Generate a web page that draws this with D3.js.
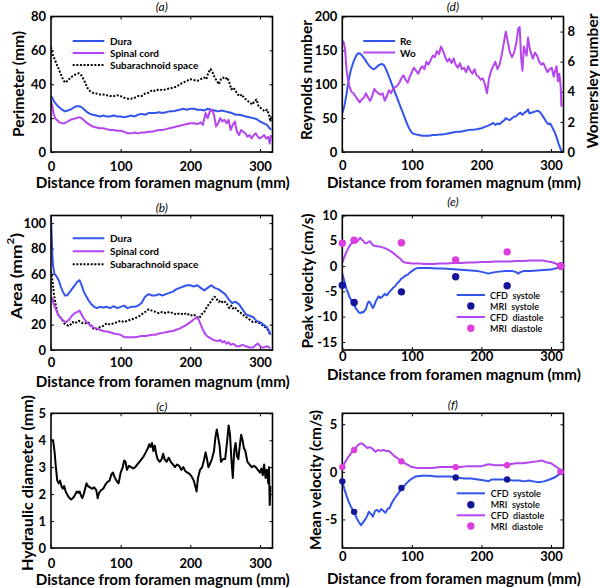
<!DOCTYPE html>
<html><head><meta charset="utf-8">
<script src="https://cdn.jsdelivr.net/npm/d3@7/dist/d3.min.js"></script>
<style>
body{margin:0;background:#fff}
text{font-family:Lato,"Liberation Sans",sans-serif}
</style>
</head><body>
<svg id="chart" width="600" height="588"></svg>
<script>
// ---------------- DATA ----------------
const xTicks = [0, 100, 200, 300];

// (a) Perimeter (mm)
const perimDura = [[0,33],[2,32],[4,30],[6,29],[8,28],[10,27],[13,26],[16,25],[20,24],[24,24.5],[28,25],[32,26],[36,27],[40,27],[44,26.5],[48,25],[52,23.5],[56,22.5],[60,22],[65,21.5],[70,21],[75,21.5],[80,21],[85,21],[90,21.5],[95,21],[100,21],[105,20.5],[110,21],[115,21.5],[120,21],[125,22],[130,22.5],[135,22],[140,23],[145,23],[150,23],[155,23.5],[160,23],[165,23.5],[170,24],[175,24],[180,24.5],[185,25],[190,25.5],[195,25],[200,25.5],[205,25.5],[210,25],[215,25],[220,24.5],[225,25.5],[230,25],[235,24.5],[240,24],[245,24.5],[250,24],[255,23.5],[260,23],[265,22],[270,22],[275,21.5],[280,21],[285,20.5],[290,20],[295,19.5],[300,18],[305,17],[310,16],[314,14],[316,13]];
const perimCord = [[0,30],[2,27],[4,22],[6,20],[8,19],[12,17.5],[16,17],[20,17],[24,18],[28,19],[32,19.5],[36,20],[40,20.5],[44,20],[48,18.5],[52,17],[56,16],[60,15],[65,14.5],[70,14],[75,14],[80,13.5],[85,13],[90,13],[95,12.5],[100,12.5],[105,12],[110,11],[115,11],[120,11.5],[125,11],[130,11.5],[135,11.5],[140,12],[145,12],[150,12.5],[155,13],[160,13],[165,13.5],[170,14],[175,14.5],[180,15],[185,15.5],[190,16],[195,16.5],[200,17],[205,17],[210,16.5],[215,17.5],[218,16],[222,23],[225,20],[228,24],[231,25],[234,22],[237,15],[240,17],[243,20],[246,18],[249,19],[252,17],[255,19],[258,13],[261,16],[264,18],[267,12],[270,10],[273,13],[276,12],[279,11],[282,9],[285,10],[288,8],[291,10],[294,11],[297,9],[300,8],[303,9],[306,10],[309,8],[312,9],[314,5],[316,10]];
const perimSAS = [[0,62],[2,58],[4,56],[6,54],[8,52],[10,50],[13,47],[16,44],[20,41],[24,42],[28,44],[32,45],[36,46],[40,46.5],[44,45],[48,42],[52,38],[56,36],[60,35],[65,34.5],[70,34],[75,34],[80,33.5],[85,33],[90,33],[95,33.5],[100,33],[105,32],[110,31.5],[115,31.5],[120,32],[125,33],[130,33],[135,34.5],[140,35],[145,36.5],[150,36],[155,37],[160,36.5],[165,37],[170,37.5],[175,38],[180,38.5],[185,40],[190,41],[195,42],[200,43],[205,42.5],[210,42],[215,43],[220,44],[223,43],[226,47],[229,49],[232,47],[235,44],[238,42],[241,40],[244,43],[247,44],[250,43],[253,44],[256,41],[259,37],[262,38],[265,36],[268,34],[271,33],[274,34],[277,32],[280,31],[283,30],[286,29],[289,28],[292,30],[295,31],[298,27],[301,26],[304,25],[307,24],[310,25],[313,22],[315,18],[316,21]];

// (b) Area (mm^2)
const areaDura = [[0,105],[1,90],[2,75],[3,66],[5,60],[8,58],[11,55],[14,50],[17,46],[20,43],[23,43],[26,45],[30,48],[34,51],[38,54],[41,55],[44,51],[47,46],[50,43],[54,39],[58,36],[62,34],[66,33],[70,34],[75,33.5],[80,34],[85,33],[90,34.5],[95,33],[100,34],[105,35],[110,33],[115,34],[120,34],[125,35],[130,37],[135,42],[140,44],[145,43],[150,43],[155,44],[160,43],[165,44],[170,45],[175,46],[180,48],[185,49],[190,50],[195,51],[200,51],[205,50],[210,51],[215,49],[220,47],[225,49],[230,51],[235,49],[240,48],[245,46],[250,44],[255,40],[260,37],[265,38],[270,36],[275,32],[280,28],[285,27],[290,26],[295,23],[300,22],[305,20],[310,18],[313,15],[315,12]];
const areaCord = [[0,42],[2,40],[4,36],[7,32],[10,28],[14,25],[18,23],[22,22],[26,24],[30,27],[34,29],[38,30],[41,31],[44,28],[47,25],[51,22],[55,20],[60,18],[65,17],[70,16],[75,15],[80,14.5],[85,14],[90,13],[95,12.5],[100,12],[105,10],[110,10],[115,10],[120,10],[125,10.5],[130,11],[135,11],[140,11.5],[145,12],[150,12],[155,13],[160,13.5],[165,14],[170,14.5],[175,15],[180,16],[185,17],[190,18.5],[195,20],[200,22],[205,24],[209,26],[212,24],[215,20],[218,16],[221,13],[224,11],[227,10],[230,9],[233,8],[236,7.5],[240,7],[243,8],[246,6],[249,7],[252,5],[255,6],[258,4],[262,5],[266,3],[270,3],[275,4],[280,3],[285,2],[290,2],[294,4],[297,5],[300,3],[303,2],[306,2],[310,3],[313,2],[315,1.5]];
const areaSAS = [[0,62],[2,55],[4,45],[6,38],[8,32],[10,28],[13,26],[16,24],[19,21],[22,20],[25,19],[28,20],[31,22],[34,21],[37,22],[40,23],[43,22],[46,21],[49,21],[52,22],[55,21],[58,19],[61,17],[64,16],[67,17],[70,18],[75,19],[80,21],[85,20],[90,21],[95,22],[100,23],[105,22],[110,23],[115,24],[120,25],[125,26],[130,28],[135,30],[140,32],[145,31],[150,30],[155,29],[160,30],[165,29],[170,30],[175,29],[180,28],[185,29],[190,28],[195,29],[200,27],[205,28],[210,26],[213,25],[216,28],[220,30],[224,34],[228,37],[232,40],[235,42],[238,40],[241,38],[244,39],[247,37],[250,38],[253,36],[256,33],[259,35],[262,32],[265,33],[268,31],[271,30],[275,28],[280,26],[285,24],[290,22],[295,22],[300,21],[305,19],[310,17],[313,14],[315,12]];

// (c) Hydraulic diameter (mm)
const hydDiam = [[0,4.0],[3,4.0],[5,3.6],[7,3.0],[9,2.5],[11,2.4],[13,2.5],[15,2.3],[17,2.2],[19,2.3],[21,2.1],[23,2.0],[25,1.9],[27,1.85],[29,1.8],[31,1.85],[33,1.9],[35,2.0],[37,2.1],[39,2.05],[41,2.1],[43,1.95],[45,1.85],[47,2.0],[49,2.2],[51,2.4],[53,2.3],[56,2.25],[59,2.2],[62,2.25],[65,2.15],[67,1.85],[69,2.05],[72,2.15],[75,2.2],[78,2.35],[81,2.45],[84,2.5],[87,2.75],[89,2.8],[91,2.65],[94,2.5],[97,2.4],[100,2.8],[103,3.0],[105,3.25],[107,3.2],[109,2.9],[112,3.05],[115,3.0],[118,2.95],[121,3.0],[124,3.1],[127,3.2],[130,3.3],[133,3.4],[136,3.55],[139,3.7],[141,3.85],[143,3.75],[145,3.9],[147,3.6],[149,3.8],[151,3.5],[153,3.3],[156,3.2],[159,3.3],[161,3.5],[163,3.3],[166,3.2],[169,3.35],[172,3.2],[175,3.1],[178,3.0],[181,3.1],[184,3.05],[187,2.9],[190,3.0],[193,2.85],[196,2.8],[199,2.75],[202,2.65],[205,2.5],[207,2.3],[209,2.1],[211,2.6],[214,2.9],[217,3.0],[220,3.3],[222,3.55],[224,3.3],[226,3.0],[228,3.1],[231,3.3],[234,3.6],[236,4.1],[238,4.4],[240,4.1],[242,3.8],[244,3.2],[247,3.3],[250,3.3],[253,4.0],[255,4.55],[257,4.2],[259,3.3],[261,2.6],[263,3.6],[265,3.9],[267,3.4],[269,3.3],[271,3.8],[273,4.2],[275,4.0],[277,3.7],[279,3.6],[282,3.2],[285,3.1],[288,3.0],[291,3.05],[294,3.0],[297,2.9],[300,2.8],[302,2.95],[304,2.7],[306,3.1],[308,2.6],[310,2.9],[312,2.4],[313,3.0],[314,1.6],[315,2.3]];

// (d) Reynolds / Womersley
const reynolds = [[0,57],[3,68],[6,85],[9,105],[12,120],[15,130],[18,138],[21,144],[24,146],[27,144],[30,140],[33,136],[36,131],[39,127],[42,124],[45,122],[48,124],[51,127],[54,129],[57,130],[60,128],[63,122],[66,114],[69,106],[72,98],[75,90],[78,82],[81,74],[84,66],[87,58],[90,50],[93,42],[96,35],[99,30],[102,27],[106,26],[110,25],[115,24],[120,24],[125,24],[130,25],[135,25],[140,26],[145,26],[150,27],[155,28],[160,29],[165,30],[170,30],[175,31],[180,32],[185,33],[190,33],[195,34],[200,35],[205,37],[210,39],[214,41],[217,43],[220,40],[223,42],[226,41],[229,44],[232,46],[235,50],[238,48],[241,47],[244,50],[247,52],[250,53],[253,56],[256,58],[259,55],[262,58],[265,60],[267,63],[269,57],[272,58],[275,59],[278,60],[281,61],[284,59],[287,55],[290,50],[293,45],[296,41],[299,42],[302,36],[305,30],[308,22],[311,12],[314,4],[316,0]];
const womersley = [[0,7.4],[2,7.3],[4,6.8],[6,5.5],[8,4.8],[10,4.4],[13,4.0],[16,3.9],[19,3.7],[22,3.5],[25,3.3],[28,3.5],[31,3.6],[34,3.9],[37,3.6],[40,3.4],[43,3.7],[46,4.2],[49,4.0],[52,3.9],[55,3.8],[58,3.9],[61,3.4],[64,3.7],[67,4.1],[70,3.9],[73,4.2],[76,4.3],[79,4.4],[82,4.6],[85,4.9],[88,5.1],[91,4.8],[94,4.6],[97,5.0],[100,5.3],[103,5.6],[106,5.4],[109,5.2],[112,5.5],[115,5.7],[118,5.5],[121,6.0],[124,5.8],[127,6.1],[130,6.4],[133,6.3],[136,6.7],[139,6.5],[142,7.0],[145,6.7],[148,6.3],[151,6.0],[154,6.2],[157,5.9],[160,6.2],[163,5.8],[166,5.6],[169,5.9],[172,5.5],[175,5.6],[178,5.3],[181,5.7],[184,5.4],[187,5.2],[190,5.5],[193,5.1],[196,5.0],[199,4.8],[202,4.9],[205,4.5],[208,3.9],[211,4.9],[214,5.4],[217,5.7],[220,6.0],[223,5.5],[226,5.8],[229,6.4],[232,7.2],[235,8.0],[238,7.3],[241,6.6],[244,6.3],[247,6.6],[250,7.2],[253,8.2],[255,8.3],[257,6.3],[259,5.4],[261,7.0],[263,6.7],[265,6.4],[267,7.6],[269,7.0],[271,6.6],[274,6.2],[277,6.6],[280,6.4],[283,6.0],[286,5.8],[289,5.9],[292,5.6],[295,5.3],[298,5.5],[301,5.6],[304,5.0],[306,5.4],[308,5.7],[310,4.7],[312,5.2],[314,4.3],[315,3.0]];

// (e) Peak velocity (cm/s)
const peakSysCFD = [[0,-1.5],[2,-2.5],[4,-3.5],[6,-4.5],[8,-5.2],[10,-6],[12,-6.5],[14,-7.2],[16,-7.5],[18,-8],[20,-8.5],[22,-8.8],[24,-9.2],[26,-9.3],[28,-9.1],[30,-9.2],[32,-8.8],[34,-8.5],[36,-7.5],[38,-7],[40,-7.2],[42,-7.8],[44,-8.3],[46,-7.8],[48,-7],[50,-6.5],[52,-6],[55,-6.3],[58,-6],[61,-5.5],[64,-5.8],[67,-5.2],[70,-4.8],[73,-4.3],[76,-4],[79,-3.4],[82,-3],[85,-2.5],[88,-2.2],[91,-1.9],[94,-1.7],[97,-1.3],[100,-1],[104,-0.6],[108,-0.4],[115,-0.4],[125,-0.4],[135,-0.5],[145,-0.5],[155,-0.6],[165,-0.7],[175,-0.8],[185,-0.9],[195,-1.0],[205,-1.3],[210,-1.5],[215,-1.3],[220,-1.2],[225,-1.1],[235,-1.0],[245,-1.0],[250,-1.2],[253,-1.5],[256,-1.2],[260,-1.0],[270,-1.0],[280,-0.9],[290,-0.8],[300,-0.7],[306,-0.5],[312,-0.2],[316,0]];
const peakDiaCFD = [[0,0.7],[3,1.8],[6,2.8],[9,3.6],[12,4.3],[15,4.8],[18,5],[21,4.8],[24,5.3],[26,5.6],[28,5.2],[30,5],[32,4.6],[35,4.5],[38,4.8],[40,4.9],[43,4.3],[46,4],[50,3.9],[55,3.8],[60,3.6],[65,3.3],[70,2.9],[75,2.4],[80,1.8],[83,1.5],[86,1.0],[90,0.7],[95,0.6],[100,0.5],[110,0.5],[120,0.4],[130,0.4],[140,0.5],[150,0.5],[160,0.6],[170,0.6],[180,0.7],[190,0.7],[200,0.8],[210,0.8],[220,0.9],[230,0.9],[240,0.9],[250,1.0],[260,1.0],[270,1.1],[280,1.1],[288,1.1],[295,0.9],[300,0.8],[305,0.6],[310,0.3],[316,0]];
const peakSysMRI = [[0,-3.8],[17,-7.2],[85,-5.1],[163,-2.1],[237,-3.9],[314,0]];
const peakDiaMRI = [[0,4.5],[17,5.1],[85,4.6],[163,1.2],[237,2.8],[314,0]];

// (f) Mean velocity (cm/s)
const meanSysCFD = [[0,-1],[3,-1.8],[6,-2.5],[9,-3.1],[12,-3.6],[15,-4.0],[18,-4.4],[21,-4.9],[24,-5.3],[27,-5.6],[30,-5.3],[33,-5.0],[36,-4.6],[38,-4.2],[41,-4.4],[44,-4.7],[47,-4.1],[50,-4.0],[53,-4.2],[56,-3.9],[59,-4.1],[62,-4.3],[65,-3.9],[68,-3.8],[71,-3.3],[75,-2.8],[79,-2.4],[83,-2.0],[87,-1.7],[91,-1.3],[95,-1.0],[100,-0.7],[105,-0.5],[115,-0.4],[125,-0.4],[135,-0.5],[145,-0.5],[155,-0.5],[165,-0.6],[175,-0.7],[185,-0.7],[195,-0.8],[205,-0.9],[210,-1.0],[215,-0.8],[225,-0.8],[235,-0.8],[245,-0.9],[255,-0.9],[262,-1.0],[268,-0.9],[275,-1.0],[282,-1.1],[290,-1.0],[298,-0.8],[305,-0.6],[311,-0.3],[316,0]];
const meanDiaCFD = [[0,0.5],[4,1.0],[8,1.5],[12,1.9],[16,2.3],[20,2.6],[24,2.9],[27,3.0],[30,2.9],[33,2.7],[36,2.5],[39,2.6],[42,2.5],[45,2.3],[48,2.1],[51,2.3],[55,2.2],[59,2.3],[63,2.2],[67,2.2],[70,2.0],[74,1.7],[78,1.5],[82,1.3],[86,1.1],[90,0.9],[95,0.7],[100,0.5],[108,0.4],[120,0.4],[130,0.4],[140,0.5],[150,0.5],[160,0.5],[170,0.5],[180,0.6],[190,0.6],[200,0.6],[210,0.8],[220,0.7],[230,0.7],[240,0.8],[250,0.9],[260,0.9],[270,1.0],[280,1.1],[287,1.2],[293,1.0],[300,0.9],[306,0.6],[312,0.3],[316,0]];
const meanSysMRI = [[0,-1.0],[17,-4.2],[85,-1.7],[163,-0.6],[237,-0.8],[314,0]];
const meanDiaMRI = [[0,0.5],[17,2.3],[85,1.1],[163,0.5],[237,0.7],[314,0]];

// ---------------- DRAWING ----------------
const BLUE = "#3355ee", PURPLE = "#b445f0", NAVY = "#15159a", MAGENTA = "#dd3ddd";
const svg = d3.select("#chart");
const XLABEL = "Distance from foramen magnum (mm)";
let clipId = 0;

function styleAxis(sel) {
  sel.select(".domain").remove();
  sel.selectAll(".tick line").attr("stroke", "#000").attr("stroke-width", 1);
  sel.selectAll(".tick text").attr("fill", "#000").attr("font-size", 13).attr("font-weight", 700)
     .attr("font-family", "Lato, sans-serif");
}

function makePanel(p) {
  const g = svg.append("g");
  const x = d3.scaleLinear().domain([0, 318]).range([p.L, p.R]);
  const y = d3.scaleLinear().domain(p.yDomain).range([p.B, p.T]);
  const fmt = d => String(d);
  g.append("g").attr("transform", `translate(0,${p.B})`)
    .call(d3.axisBottom(x).tickValues(xTicks).tickSizeInner(-3).tickSizeOuter(0).tickPadding(p.xPad).tickFormat(fmt))
    .call(styleAxis);
  g.append("g").attr("transform", `translate(0,${p.T})`)
    .call(d3.axisTop(x).tickValues(xTicks).tickSizeInner(-3).tickSizeOuter(0).tickFormat(""))
    .call(styleAxis);
  g.append("g").attr("transform", `translate(${p.L},0)`)
    .call(d3.axisLeft(y).tickValues(p.yTicks).tickSizeInner(-3).tickSizeOuter(0).tickPadding(5).tickFormat(fmt))
    .call(styleAxis);
  let y2 = null;
  if (p.y2Domain) {
    y2 = d3.scaleLinear().domain(p.y2Domain).range([p.B, p.T]);
    g.append("g").attr("transform", `translate(${p.R},0)`)
      .call(d3.axisRight(y2).tickValues(p.y2Ticks).tickSizeInner(-3).tickSizeOuter(0).tickPadding(4).tickFormat(fmt))
      .call(styleAxis);
  } else {
    g.append("g").attr("transform", `translate(${p.R},0)`)
      .call(d3.axisRight(y).tickValues(p.yTicks).tickSizeInner(-3).tickSizeOuter(0).tickFormat(""))
      .call(styleAxis);
  }
  const id = "clip" + (clipId++);
  g.append("clipPath").attr("id", id).append("rect")
    .attr("x", p.L).attr("y", p.T).attr("width", p.R - p.L).attr("height", p.B - p.T);
  const plot = g.append("g").attr("clip-path", `url(#${id})`);
  g.append("rect").attr("x", p.L).attr("y", p.T).attr("width", p.R - p.L).attr("height", p.B - p.T)
    .attr("fill", "none").attr("stroke", "#000").attr("stroke-width", 1.6);
  g.append("text").attr("x", (p.L + p.R) / 2).attr("y", p.titleY).attr("text-anchor", "middle")
    .attr("font-family", "Liberation Sans, Arial, sans-serif").attr("font-style", "italic")
    .attr("font-size", 12).text(p.title);
  g.append("text").attr("x", (p.L + p.R) / 2 + 1).attr("y", p.xLabelY).attr("text-anchor", "middle")
    .attr("font-size", 15).attr("font-weight", 700).attr("textLength", 254).attr("lengthAdjust", "spacingAndGlyphs")
    .text(XLABEL);
  const yl = g.append("text").attr("transform", `translate(${p.yLabelX},${p.yLabelC}) rotate(-90)`)
    .attr("text-anchor", "middle").attr("dominant-baseline", "central")
    .attr("font-size", 15).attr("font-weight", 700)
    .attr("textLength", p.yLabelLen).attr("lengthAdjust", "spacingAndGlyphs");
  if (p.yLabelSup) {
    yl.append("tspan").text(p.yLabel);
    yl.append("tspan").attr("font-size", 10).attr("dy", -6).text(p.yLabelSup);
    yl.append("tspan").attr("dy", 6).text(")");
  } else yl.text(p.yLabel);
  return { g, plot, x, y, y2 };
}

function drawLine(P, data, color, opts = {}) {
  const ys = opts.y || P.y;
  P.plot.append("path").datum(data)
    .attr("d", d3.line().x(d => P.x(d[0])).y(d => ys(d[1])))
    .attr("fill", "none").attr("stroke", color).attr("stroke-width", opts.w || 2)
    .attr("stroke-linejoin", "round")
    .attr("stroke-dasharray", opts.dash || null);
}
function drawDots(P, data, color, r) {
  P.g.selectAll(null).data(data).enter().append("circle")
    .attr("cx", d => P.x(d[0])).attr("cy", d => P.y(d[1])).attr("r", r).attr("fill", color);
}
function legend(items, x1, x2, tx, ys, fs, fw) {
  items.forEach((it, i) => {
    const yy = ys[i];
    if (it.type === "line") {
      svg.append("line").attr("x1", x1).attr("x2", x2).attr("y1", yy).attr("y2", yy)
        .attr("stroke", it.color).attr("stroke-width", 2).attr("stroke-dasharray", it.dash || null);
    } else {
      svg.append("circle").attr("cx", (x1 + x2) / 2).attr("cy", yy).attr("r", it.r).attr("fill", it.color);
    }
    svg.append("text").attr("x", tx).attr("y", yy).attr("dominant-baseline", "central")
      .attr("font-size", fs).attr("font-weight", fw).style("white-space", "pre").text(it.label);
  });
}

const LC = { L: 51, R: 272.5 }, RC = { L: 342.3, R: 563.5 };

// (a)
const A = makePanel({ ...LC, T: 16.5, B: 152, yDomain: [0, 80], yTicks: [0, 20, 40, 60, 80], xPad: 10,
  title: "(a)", titleY: 11, xLabelY: 188, yLabel: "Perimeter (mm)", yLabelX: 18, yLabelC: 84, yLabelLen: 106 });
drawLine(A, perimSAS, "#000", { dash: "2,1.6" });
drawLine(A, perimDura, BLUE);
drawLine(A, perimCord, PURPLE);
legend([{ type: "line", color: BLUE, label: "Dura" }, { type: "line", color: PURPLE, label: "Spinal cord" },
  { type: "line", color: "#000", dash: "2,1.6", label: "Subarachnoid space" }], 72.7, 104.3, 110, [41, 53, 65], 10, 700);

// (d)
const D = makePanel({ ...RC, T: 16.5, B: 152, yDomain: [0, 200], yTicks: [0, 50, 100, 150, 200], xPad: 9,
  y2Domain: [0, 9], y2Ticks: [0, 2, 4, 6, 8],
  title: "(d)", titleY: 11, xLabelY: 188, yLabel: "Reynolds number", yLabelX: 306, yLabelC: 80, yLabelLen: 120 });
drawLine(D, reynolds, BLUE);
drawLine(D, womersley, PURPLE, { y: D.y2 });
D.g.append("text").attr("transform", `translate(591.5,81) rotate(-90)`).attr("text-anchor", "middle")
  .attr("dominant-baseline", "central").attr("font-size", 15).attr("font-weight", 700)
  .attr("textLength", 135).attr("lengthAdjust", "spacingAndGlyphs").text("Womersley number");
legend([{ type: "line", color: BLUE, label: "Re" }, { type: "line", color: PURPLE, label: "Wo" }],
  363.3, 395, 400, [41, 52.5], 10, 700);

// (b)
const B = makePanel({ ...LC, T: 215.5, B: 350, yDomain: [0, 106], yTicks: [0, 20, 40, 60, 80, 100], xPad: 8,
  title: "(b)", titleY: 212, xLabelY: 387, yLabel: "Area (mm", yLabelSup: "2", yLabelX: 16, yLabelC: 276, yLabelLen: 86 });
drawLine(B, areaSAS, "#000", { dash: "2,1.6" });
drawLine(B, areaDura, BLUE);
drawLine(B, areaCord, PURPLE);
legend([{ type: "line", color: BLUE, label: "Dura" }, { type: "line", color: PURPLE, label: "Spinal cord" },
  { type: "line", color: "#000", dash: "2,1.6", label: "Subarachnoid space" }], 72.7, 104.3, 110, [238.3, 251.3, 264.3], 10, 700);

// (e)
const E = makePanel({ ...RC, T: 215.5, B: 350, yDomain: [-16.6, 10], yTicks: [-15, -10, -5, 0, 5, 10], xPad: 2,
  title: "(e)", titleY: 206, xLabelY: 380, yLabel: "Peak velocity (cm/s)", yLabelX: 307, yLabelC: 281, yLabelLen: 135 });
drawLine(E, peakSysCFD, BLUE);
drawLine(E, peakDiaCFD, PURPLE);
drawDots(E, peakSysMRI, NAVY, 3.7);
drawDots(E, peakDiaMRI, MAGENTA, 3.7);
legend([{ type: "line", color: BLUE, label: "CFD  systole" }, { type: "dot", color: NAVY, r: 3.7, label: "MRI  systole" },
  { type: "line", color: PURPLE, label: "CFD  diastole" }, { type: "dot", color: MAGENTA, r: 3.7, label: "MRI  diastole" }],
  456.7, 485, 490, [295, 306, 317, 328.3], 9, 600);

// (c)
const C = makePanel({ ...LC, T: 413.3, B: 548, yDomain: [0, 5], yTicks: [0, 1, 2, 3, 4, 5], xPad: 11,
  title: "(c)", titleY: 411, xLabelY: 585, yLabel: "Hydraulic diameter (mm)", yLabelX: 27, yLabelC: 483, yLabelLen: 176 });
drawLine(C, hydDiam, "#000");

// (f)
const F = makePanel({ ...RC, T: 413.3, B: 548, yDomain: [-8, 6.15], yTicks: [-5, 0, 5], xPad: 4,
  title: "(f)", titleY: 409, xLabelY: 584, yLabel: "Mean velocity (cm/s)", yLabelX: 315, yLabelC: 480, yLabelLen: 140 });
drawLine(F, meanSysCFD, BLUE);
drawLine(F, meanDiaCFD, PURPLE);
drawDots(F, meanSysMRI, NAVY, 3.2);
drawDots(F, meanDiaMRI, MAGENTA, 3.2);
legend([{ type: "line", color: BLUE, label: "CFD  systole" }, { type: "dot", color: NAVY, r: 3.7, label: "MRI  systole" },
  { type: "line", color: PURPLE, label: "CFD  diastole" }, { type: "dot", color: MAGENTA, r: 3.7, label: "MRI  diastole" }],
  456.7, 485, 490.7, [493.3, 504.7, 515.3, 526], 9, 600);
</script>
</body></html>
